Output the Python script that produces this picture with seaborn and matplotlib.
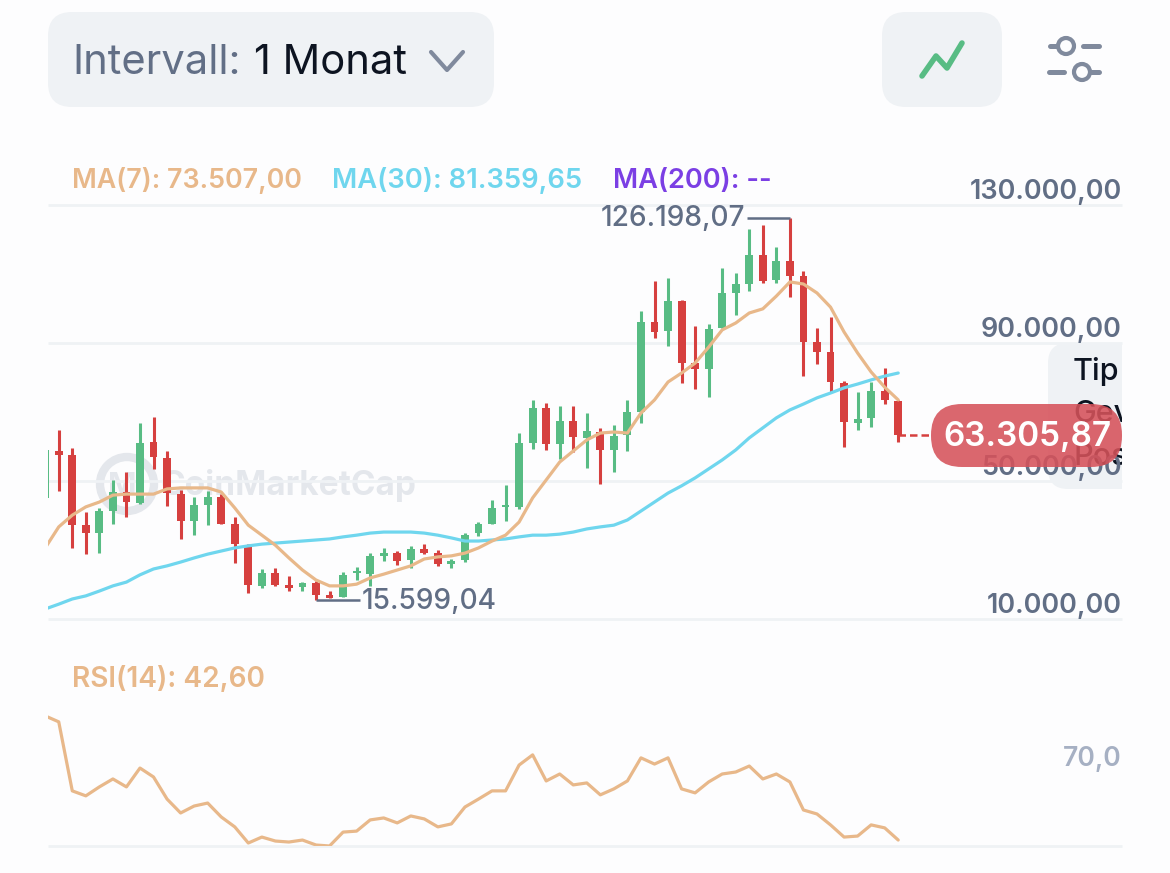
import matplotlib
matplotlib.use("Agg")
import matplotlib.pyplot as plt
from matplotlib.patches import FancyBboxPatch, Circle, Rectangle
import numpy as np
import seaborn as sns

# prices in thousands of USD
opens = [45.1,58.7,57.5,37.2,34.9,41.3,46.8,43.6,61.3,56.7,46.2,38.4,43.0,45.4,37.5,31.4,19.6,23.3,19.9,19.3,20.4,17.0,16.4,23.3,23.0,28.3,29.1,27.1,30.3,29.1,25.9,27.1,34.9,37.5,42.5,42.5,61.0,71.2,60.7,67.4,62.5,64.2,59.0,63.3,70.0,96.1,93.5,102.2,84.2,82.5,94.4,104.5,107.1,115.5,108.3,113.8,109.4,90.3,87.4,78.4,66.8,68.3,76.1,73.2]
closes = [59.0,57.5,37.2,34.9,41.3,46.8,43.9,61.0,57.0,46.5,38.4,43.0,45.4,37.5,31.7,19.9,23.3,19.9,19.0,20.4,17.0,16.1,22.8,23.9,28.3,29.1,26.8,30.3,29.1,25.9,26.8,34.3,37.5,42.2,43.0,61.0,71.2,60.7,67.4,62.8,64.5,59.0,63.0,70.0,96.1,93.2,102.2,84.2,82.5,94.1,104.5,107.1,115.5,108.0,113.8,109.4,90.3,87.4,78.7,67.1,68.0,76.1,73.5,63.3]
highs = [59.0,64.8,59.6,41.0,42.2,50.3,52.6,66.8,68.6,58.7,47.4,45.4,47.1,46.2,39.6,31.7,24.5,24.8,22.5,20.7,21.0,18.1,23.6,25.1,29.1,30.6,29.7,31.2,31.7,30.0,27.4,34.9,38.1,44.5,48.8,63.9,73.5,72.6,71.7,71.7,69.7,65.4,66.2,73.5,99.3,108.0,108.8,102.5,94.9,95.5,111.7,110.3,123.0,124.2,117.8,126.2,110.9,94.4,97.5,79.0,75.8,78.7,82.8,73.5]
lows = [45.1,47.1,30.6,28.8,29.1,37.5,39.6,43.3,53.5,42.8,33.2,34.3,37.2,37.5,26.2,17.5,19.0,19.6,18.1,18.1,15.6,16.1,16.4,21.3,19.6,26.8,25.7,24.8,28.8,25.4,24.8,26.5,34.1,37.5,38.4,41.9,59.3,59.0,56.4,58.4,53.8,49.1,52.6,58.7,66.8,91.5,89.1,78.4,76.7,74.3,94.4,98.1,105.1,107.4,107.4,103.3,80.4,83.9,75.8,59.9,64.8,65.7,72.3,61.3]
ma7 = [30.6,36.7,40.1,42.5,43.9,45.9,46.2,46.2,46.2,47.7,48.0,48.0,48.0,46.8,42.2,37.2,34.3,31.4,27.7,24.2,21.3,19.6,19.6,20.1,21.9,23.0,24.2,25.4,27.4,28.0,28.3,29.1,30.6,32.6,34.3,38.1,45.1,50.3,55.5,58.7,61.9,63.9,64.2,63.9,69.7,73.5,78.7,81.3,84.2,88.8,93.8,95.8,98.7,99.9,103.6,107.7,107.1,104.5,100.4,93.2,87.1,81.6,77.2,73.5]
ma30 = [12.9,14.3,15.8,16.7,18.1,19.6,20.7,22.8,24.5,25.4,26.5,27.7,28.8,29.7,30.6,31.2,31.7,32.0,32.3,32.6,32.9,33.2,33.8,34.3,34.9,35.2,35.2,35.2,34.9,34.3,33.5,32.6,32.6,32.9,33.2,33.8,34.3,34.3,34.6,35.2,36.1,36.7,37.2,38.7,41.3,43.9,46.5,48.6,50.9,53.5,56.1,59.0,62.5,65.4,68.3,70.6,72.3,74.1,75.5,77.0,78.1,79.3,80.4,81.3]
rsi = [92.6,90.2,62.4,60.4,64.0,67.2,64.0,71.6,68.0,59.1,53.5,56.3,57.5,51.9,47.9,41.4,43.8,42.2,41.8,42.6,40.6,40.2,45.8,46.2,50.7,51.5,49.5,52.3,51.1,47.9,49.1,55.9,59.1,62.4,62.4,72.8,76.9,66.4,69.2,64.8,65.6,60.8,63.2,66.4,75.7,73.2,75.7,63.2,61.6,66.0,69.2,70.0,72.4,67.2,69.2,66.0,54.7,53.1,48.7,43.8,44.2,48.7,47.5,42.6]

price_ticks = [10, 50, 90, 130]
price_tick_labels = ["10.000,00", "50.000,00", "90.000,00", "130.000,00"]
rsi_ticks = [70]
rsi_tick_labels = ["70,0"]
high_label = "126.198,07"
low_label = "15.599,04"
last_label = "63.305,87"

W, H = 1170, 873
BG = "#FDFDFE"
PANEL = "#EFF2F5"
GRID = "#EFF2F5"
SLATE = "#616E85"
DARK = "#0D1421"
GREEN = "#58BC84"
RED = "#D6403F"
ORANGE = "#E8B88A"
BLUE = "#6FD6EE"
PURPLE = "#7B3FE4"
FONT = "Inter"

sns.set_theme(style="white", rc={"figure.facecolor": BG, "axes.facecolor": "none", "savefig.facecolor": BG})
plt.rcParams["font.family"] = [FONT, "DejaVu Sans"]

fig = plt.figure(figsize=(W / 100, H / 100), dpi=100)


def px_axes(x0, y0, x1, y1, z):
    return fig.add_axes([x0 / W, 1 - y1 / H, (x1 - x0) / W, (y1 - y0) / H], zorder=z)


def overlay(z):
    a = px_axes(0, 0, W, H, z)
    a.set_xlim(0, W)
    a.set_ylim(H, 0)
    a.axis("off")
    return a


under = overlay(0)
top = overlay(3)
ax = px_axes(48, 205, 1122, 619, 1)
ax_rsi = px_axes(48, 700, 1122, 846, 1)

# ---- header controls
for (x0, y0, x1, y1, r) in [(48, 12, 494, 107, 24), (882, 12, 1002, 107, 24)]:
    under.add_patch(FancyBboxPatch((x0 + r, y0 + r), x1 - x0 - 2 * r, y1 - y0 - 2 * r,
                                   boxstyle=f"round,pad={r},rounding_size={r}", fc=PANEL, ec="none"))
under.text(72, 63, "Intervall:", fontsize=30, color="#626F86", va="center", ha="left")
under.text(254, 63, "1 Monat", fontsize=30, color=DARK, va="center", ha="left")
under.plot([431, 447, 463], [52, 70, 52], color="#808A9D", lw=3, solid_capstyle="round", solid_joinstyle="round")
under.plot([922, 936, 947, 962], [76, 56, 68, 43], color=GREEN, lw=4, solid_capstyle="round", solid_joinstyle="round")
for y, cx, segs in [(46, 1066, [(1050, 1057), (1083, 1099)]), (72, 1082, [(1049, 1064), (1091, 1099)])]:
    for a, b in segs:
        under.plot([a, b], [y, y], color="#808A9D", lw=3.6, solid_capstyle="round")
    under.add_patch(Circle((cx, y), 8, fc=BG, ec="#808A9D", lw=3))

# ---- tooltip fragment behind the price scale
r = 20
tip_clip = Rectangle((1048, 343), 74, 146, transform=under.transData)
tip = FancyBboxPatch((1048 + r, 343 + r), 120, 146 - 2 * r, boxstyle=f"round,pad={r},rounding_size={r}",
                     fc=PANEL, ec="none")
under.add_patch(tip)
tip.set_clip_path(tip_clip)
for y, s in [(372, "Tip"), (414, "Gev"), (457, "Pos")]:
    t = under.text(1073, y, s, fontsize=22, color=DARK, va="center", ha="left", fontweight="medium")
    t.set_clip_on(True)
    t.set_clip_path(tip_clip)

# ---- watermark
under.add_patch(Circle((127, 484), 27, fc="none", ec="#E4E7EC", lw=6))
under.text(122, 486, "M", fontsize=22, color="#E4E7EC", ha="center", va="center", fontweight="bold")
under.text(160, 486, "CoinMarketCap", fontsize=24, color="#E4E7EC", ha="left", va="center", fontweight="bold")

# ---- legends
under.text(72, 181, "MA(7): 73.507,00", fontsize=19.3, color=ORANGE, va="center", fontweight="semibold")
under.text(332, 181, "MA(30): 81.359,65", fontsize=19.7, color=BLUE, va="center", fontweight="semibold")
under.text(613, 181, "MA(200): --", fontsize=19.6, color=PURPLE, va="center", fontweight="semibold")
under.text(72, 679, "RSI(14): 42,60", fontsize=20.2, color=ORANGE, va="center", fontweight="semibold")

# ---- candles
idx = np.arange(len(opens))
o, c, hi, lo = map(np.asarray, (opens, closes, highs, lows))
colors = [GREEN if a >= b else RED for a, b in zip(c, o)]
ax.vlines(idx, lo, hi, colors=colors, lw=2.2, zorder=2)
ax.bar(idx, np.abs(c - o), bottom=np.minimum(o, c), width=0.58, color=colors, linewidth=0, zorder=3)

sns.lineplot(x=idx, y=ma30, ax=ax, color=BLUE, lw=2.3, zorder=4, errorbar=None)
sns.lineplot(x=idx, y=ma7, ax=ax, color=ORANGE, lw=2.3, zorder=5, errorbar=None)

ax.set_xlim((48 - 45.2) / 13.54, (1122 - 45.2) / 13.54)
ax.set_ylim(10, 130)
ax.set_xticks([])
ax.set_xlabel("")
ax.set_ylabel("")
ax.set_yticks(price_ticks)
ax.yaxis.tick_right()
ax.set_yticklabels(price_tick_labels)
ax.tick_params(axis="y", length=0, pad=0, labelsize=19.4, labelcolor=SLATE)
for lab in ax.get_yticklabels():
    lab.set_ha("right")
    lab.set_va("bottom")
    lab.set_fontweight("semibold")
ax.grid(axis="y", color=GRID, lw=2)
ax.set_axisbelow(True)
for gl in ax.get_ygridlines():
    gl.set_clip_on(False)
    gl.set_solid_capstyle("butt")
sns.despine(ax=ax, left=True, bottom=True, right=True, top=True)

# high / low markers
i_hi, i_lo = int(np.argmax(hi)), int(np.argmin(lo))
ax.hlines(hi[i_hi], i_hi - 3.2, i_hi, color=SLATE, lw=1.8, zorder=6)
ax.hlines(lo[i_lo], i_lo, i_lo + 3.25, color=SLATE, lw=1.8, zorder=6)
ax.annotate(high_label, (i_hi - 3.2, hi[i_hi]), xytext=(-1, 0), textcoords="offset points",
            ha="right", va="center", fontsize=20.2, color=SLATE, fontweight="medium")
ax.annotate(low_label, (i_lo + 3.25, lo[i_lo]), xytext=(1, -1), textcoords="offset points",
            ha="left", va="center", fontsize=20.2, color=SLATE, fontweight="medium")

# last price marker
ax.hlines(c[-1], idx[-1], 65.5, color=RED, lw=1.8, linestyles=(0, (3, 1.6)), zorder=6)
pill = FancyBboxPatch((931 + 31, 404 + 31), 191 - 62, 1, boxstyle="round,pad=31,rounding_size=31",
                      fc="#D6525A", ec="none", alpha=0.88)
top.add_patch(pill)
top.text(1027, 437, last_label, fontsize=24, color="white", ha="center", va="center", fontweight="semibold")

# ---- RSI
sns.lineplot(x=idx, y=rsi, ax=ax_rsi, color=ORANGE, lw=2.3, zorder=4, errorbar=None)
ax_rsi.set_xlim(ax.get_xlim())
ax_rsi.set_ylim(40.2, 99.0)
ax_rsi.axhline(40.2, color=GRID, lw=2, zorder=1, clip_on=False, solid_capstyle="butt")
ax_rsi.set_xticks([])
ax_rsi.set_xlabel("")
ax_rsi.set_ylabel("")
ax_rsi.set_yticks(rsi_ticks)
ax_rsi.yaxis.tick_right()
ax_rsi.set_yticklabels(rsi_tick_labels)
ax_rsi.tick_params(axis="y", length=0, pad=0, labelsize=19, labelcolor="#A6B0C3")
for lab in ax_rsi.get_yticklabels():
    lab.set_ha("right")
    lab.set_va("bottom")
    lab.set_fontweight("semibold")
sns.despine(ax=ax_rsi, left=True, bottom=True, right=True, top=True)

fig.savefig("out.png", dpi=100, facecolor=BG)
